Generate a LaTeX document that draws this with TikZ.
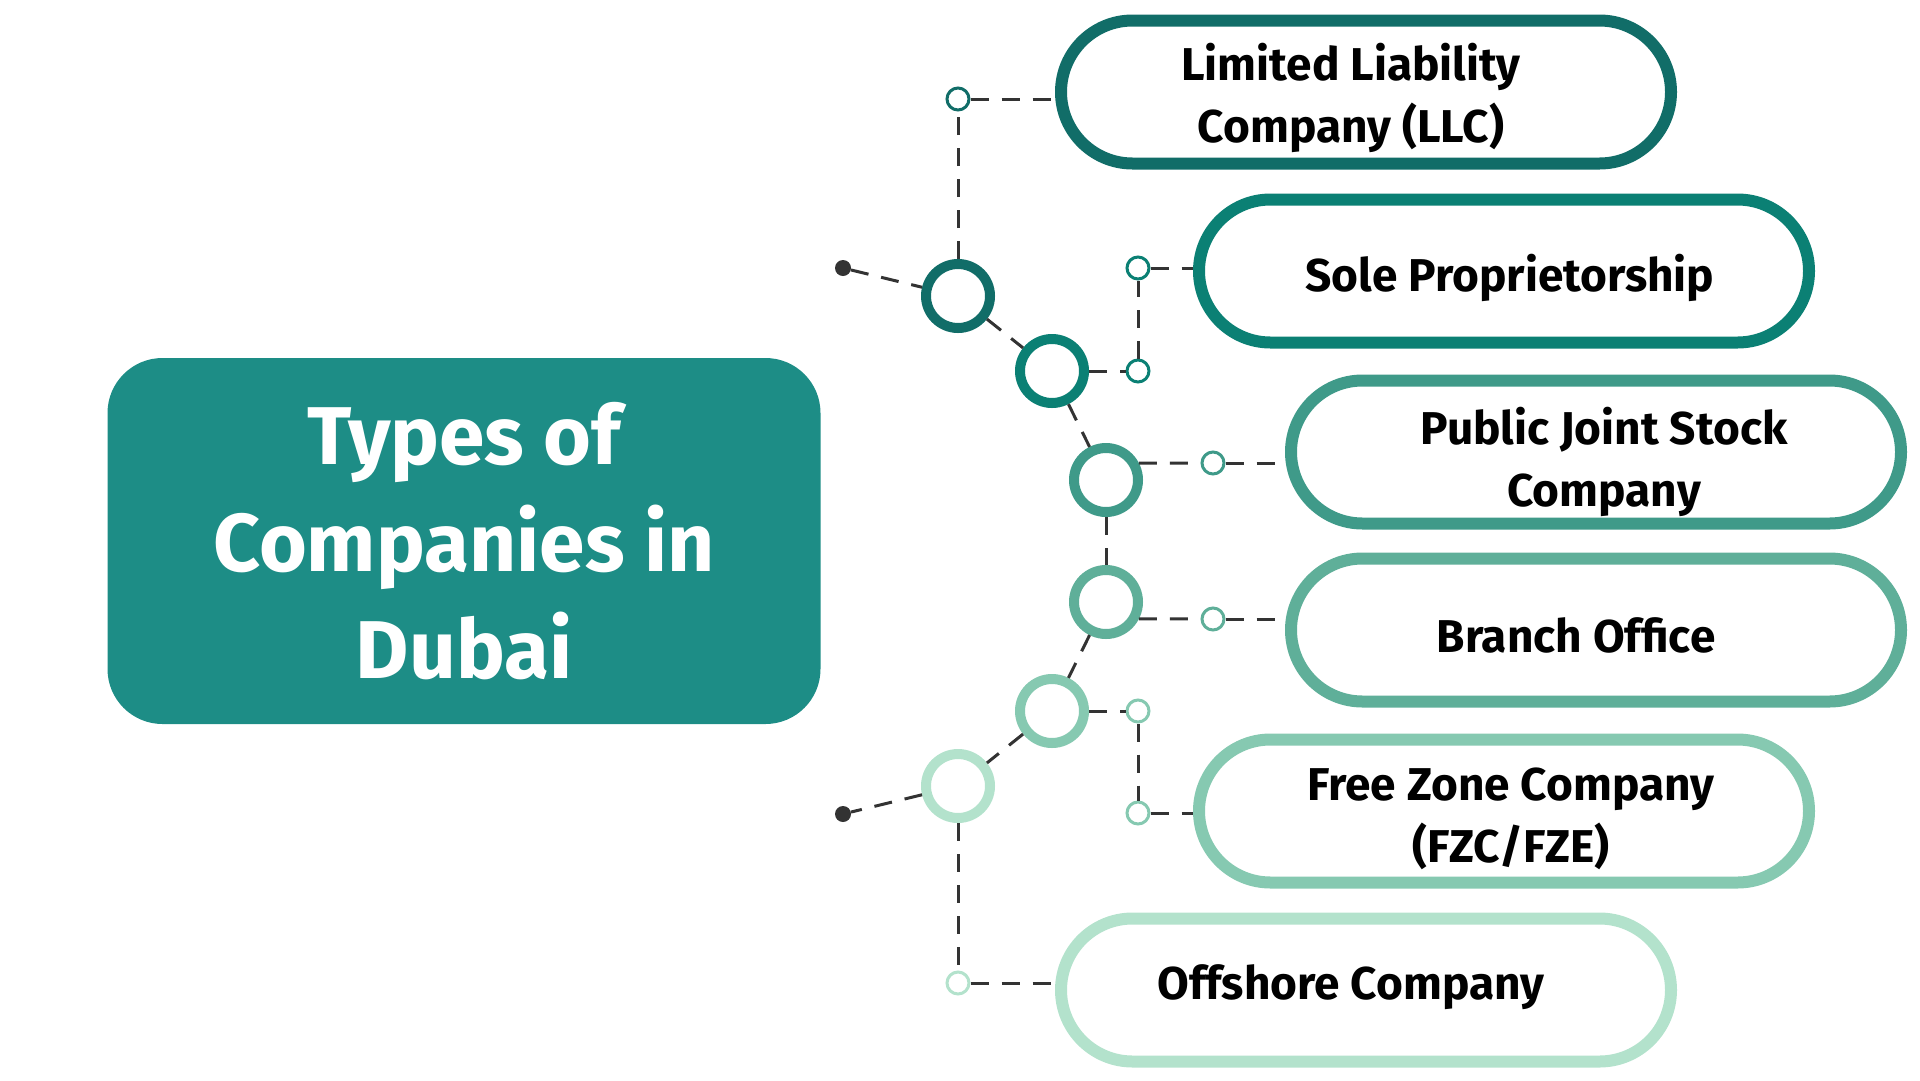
\documentclass[tikz,border=0pt]{standalone}
\usepackage{fontspec}
\setmainfont{Fira Sans}
\usepackage{tikz}
\usetikzlibrary{arrows.meta}

\definecolor{titlegreen}{HTML}{1D8D86}
\definecolor{tone1}{HTML}{116D68}
\definecolor{tone2}{HTML}{0B8074}
\definecolor{tone3}{HTML}{3F9A89}
\definecolor{tone4}{HTML}{5FAF99}
\definecolor{tone5}{HTML}{86C9B1}
\definecolor{tone6}{HTML}{B3E2CC}
\definecolor{linkgray}{HTML}{333333}

\begin{document}
\begin{tikzpicture}[x=1pt, y=-1pt,
    titlebox/.style={rectangle, rounded corners=55pt, fill=titlegreen, text=white, minimum width=713pt, minimum height=366pt, inner sep=0pt, align=center, font=\fontsize{82}{107}\selectfont\bfseries},
    pill/.style={rectangle, rounded corners=71.5pt, draw=#1, line width=12pt, fill=white, minimum width=610pt, minimum height=143pt, inner sep=0pt, outer sep=auto},
    pilltext/.style={inner sep=0pt, align=center, font=\fontsize{46}{62}\selectfont\bfseries},
    hub/.style={circle, draw=#1, line width=10pt, fill=white, minimum size=64pt, inner sep=0pt, outer sep=auto},
    knot/.style={circle, draw=#1, line width=3pt, fill=white, minimum size=22pt, inner sep=0pt, outer sep=auto},
    tip/.style={circle, fill=linkgray, minimum size=16pt, inner sep=0pt},
    link/.style={draw=linkgray, line width=3pt, dash pattern=on 18pt off 13pt}]
    \useasboundingbox (0, 0) rectangle (1920, 1080);
    \node[titlebox] (title) at (464, 541) {Types of\\Companies in\\Dubai};

    \node[pill=tone1] (llc) at (1366, 92) {};
    \node[pill=tone2] (sole) at (1504, 271) {};
    \node[pill=tone3] (pjsc) at (1596, 452) {};
    \node[pill=tone4] (branch) at (1596, 630) {};
    \node[pill=tone5] (fzc) at (1504, 811) {};
    \node[pill=tone6] (offshore) at (1366, 990) {};
    \node[pilltext, xshift=-15pt, yshift=-6pt] (llc text) at (llc) {Limited Liability\\Company (LLC)};
    \node[pilltext, xshift=6pt, yshift=-7pt] (sole text) at (sole) {Sole Proprietorship};
    \node[pilltext, xshift=8pt, yshift=-10pt] (pjsc text) at (pjsc) {Public Joint Stock\\Company};
    \node[pilltext, xshift=-20pt, yshift=-5pt] (branch text) at (branch) {Branch Office};
    \node[pilltext, xshift=7pt, yshift=-8pt] (fzc text) at (fzc) {Free Zone Company\\(FZC/FZE)};
    \node[pilltext, xshift=-15pt, yshift=3pt] (offshore text) at (offshore) {Offshore Company};

    \node[tip] (top) at (843, 268) {};
    \node[tip] (bottom) at (843, 814) {};

    \node[hub=tone1] (h1) at (958, 296) {};
    \node[hub=tone2] (h2) at (1052, 371) {};
    \node[hub=tone3] (h3) at (1106, 480) {};
    \node[hub=tone4] (h4) at (1106, 602) {};
    \node[hub=tone5] (h5) at (1052, 711) {};
    \node[hub=tone6] (h6) at (958, 786) {};

    \node[knot=tone1] (k1) at (958, 99) {};
    \node[knot=tone2] (k2a) at (1138, 268) {};
    \node[knot=tone2] (k2b) at (1138, 371) {};
    \node[knot=tone3] (k3) at (1213, 463) {};
    \node[knot=tone4] (k4) at (1213, 619) {};
    \node[knot=tone5] (k5a) at (1138, 711) {};
    \node[knot=tone5] (k5b) at (1138, 813) {};
    \node[knot=tone6] (k6) at (958, 983) {};

    \draw[link] (top) -- (h1);
    \draw[link] (h1) -- (h2);
    \draw[link] (h2) -- (h3);
    \draw[link] (h3) -- (h4);
    \draw[link] (h4) -- (h5);
    \draw[link] (h5) -- (h6);
    \draw[link] (h6) -- (bottom);

    \draw[link] (h1) -- (k1);
    \draw[link] (k1) -- (k1 -| llc.west);
    \draw[link] (h2) -- (k2b);
    \draw[link] (k2b) -- (k2a);
    \draw[link] (k2a) -- (k2a -| sole.west);
    \draw[link] (h3.27) -- (k3);
    \draw[link] (k3) -- (k3 -| pjsc.west);
    \draw[link] (h4.-27) -- (k4);
    \draw[link] (k4) -- (k4 -| branch.west);
    \draw[link] (h5) -- (k5a);
    \draw[link] (k5a) -- (k5b);
    \draw[link] (k5b) -- (k5b -| fzc.west);
    \draw[link] (h6) -- (k6);
    \draw[link] (k6) -- (k6 -| offshore.west);
\end{tikzpicture}
\end{document}
